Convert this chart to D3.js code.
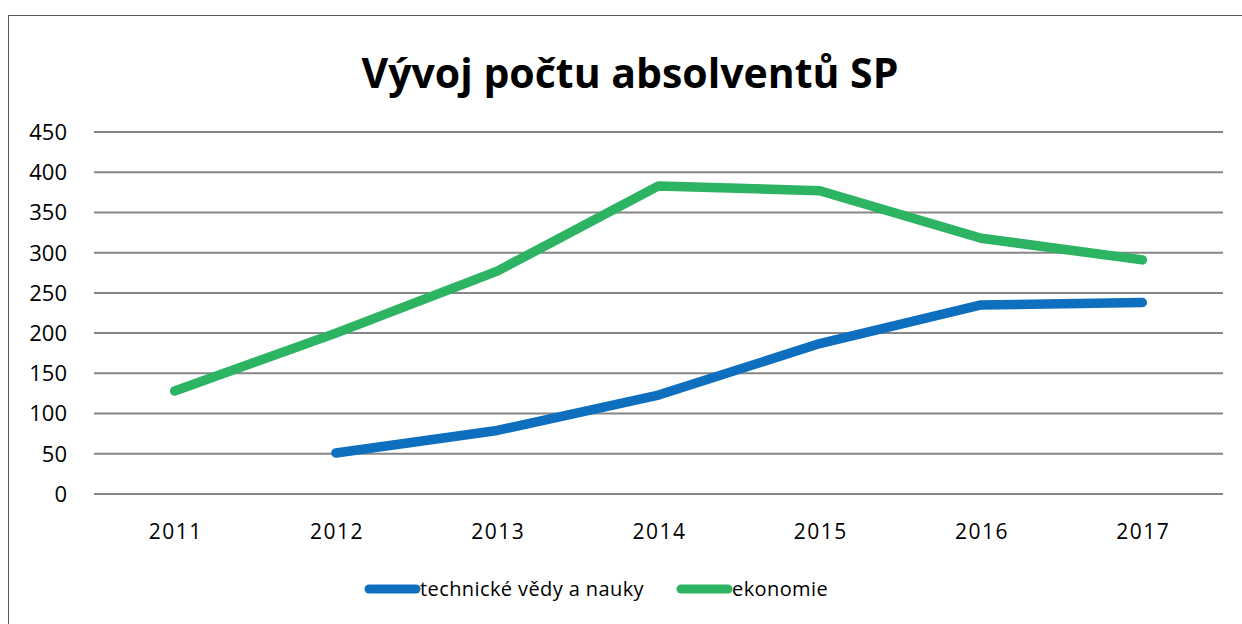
<!DOCTYPE html>
<html>
<head>
<meta charset="utf-8">
<script src="https://d3js.org/d3.v7.min.js"></script>
<style>
  body { margin: 0; background: #fff; }
  svg { display: block; }
  text { font-family: "Open Sans", "Noto Sans", sans-serif; fill: #000; }
</style>
</head>
<body>
<svg width="1242" height="624"></svg>
<script>
const YEARS = ['2011', '2012', '2013', '2014', '2015', '2016', '2017'];
const TECH = [null, 51, 79, 123, 187, 235, 238];
const EKON = [128, 200, 277, 383, 377, 318, 291];
const Y_TICKS = [0, 50, 100, 150, 200, 250, 300, 350, 400, 450];

const series = [
    { name: 'technické vědy a nauky', values: TECH, color: '#0f6fbf' },
    { name: 'ekonomie', values: EKON, color: '#2db463' }
];

const svg = d3.select('svg');

// frame round the chart
svg.append('rect')
    .attr('x', 8.5).attr('y', 15.5)
    .attr('width', 1250).attr('height', 620)
    .attr('fill', 'none')
    .attr('stroke', '#595959')
    .attr('stroke-width', 1);

svg.append('text')
    .attr('x', 630).attr('y', 88)
    .attr('text-anchor', 'middle')
    .attr('font-size', 41)
    .attr('font-weight', 'bold')
    .text('Vývoj počtu absolventů SP');

const PLOT = { left: 94, right: 1223, top: 132, bottom: 494 };

const x = d3.scaleBand()
    .domain(YEARS)
    .range([PLOT.left, PLOT.right]);
const y = d3.scaleLinear()
    .domain([0, 450])
    .range([PLOT.bottom, PLOT.top]);

// grid lines
svg.append('g')
    .selectAll('line')
    .data(Y_TICKS)
    .join('line')
    .attr('x1', PLOT.left).attr('x2', PLOT.right)
    .attr('y1', d => y(d)).attr('y2', d => y(d))
    .attr('stroke', '#868686')
    .attr('stroke-width', 2);

// y labels
svg.append('g')
    .selectAll('text')
    .data(Y_TICKS)
    .join('text')
    .attr('x', 67)
    .attr('y', d => y(d))
    .attr('dy', '0.36em')
    .attr('text-anchor', 'end')
    .attr('font-size', 22)
    .text(d => d);

// x labels
svg.append('g')
    .selectAll('text')
    .data(YEARS)
    .join('text')
    .attr('x', d => x(d) + x.bandwidth() / 2 + 1)
    .attr('y', 539)
    .attr('text-anchor', 'middle')
    .attr('font-size', 21)
    .attr('letter-spacing', 1.5)
    .text(d => d);

const line = d3.line()
    .defined(d => d.v != null)
    .x(d => x(d.year) + x.bandwidth() / 2)
    .y(d => y(d.v));

svg.append('g')
    .selectAll('path')
    .data(series)
    .join('path')
    .attr('d', s => line(YEARS.map((yr, i) => ({ year: yr, v: s.values[i] }))))
    .attr('fill', 'none')
    .attr('stroke', s => s.color)
    .attr('stroke-width', 9.5)
    .attr('stroke-linecap', 'round')
    .attr('stroke-linejoin', 'round');

// legend
const LEGEND_X = [369, 681];
const legend = svg.append('g')
    .selectAll('g')
    .data(series)
    .join('g')
    .attr('transform', (d, i) => `translate(${LEGEND_X[i]}, 589)`);
legend.append('line')
    .attr('x1', 0).attr('x2', 47)
    .attr('stroke', d => d.color)
    .attr('stroke-width', 9)
    .attr('stroke-linecap', 'round');
legend.append('text')
    .attr('x', 51)
    .attr('dy', '0.35em')
    .attr('font-size', 20)
    .attr('letter-spacing', 0.4)
    .text(d => d.name);
</script>
</body>
</html>
